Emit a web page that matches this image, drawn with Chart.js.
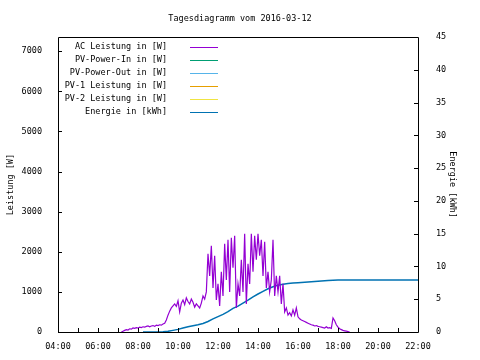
<!DOCTYPE html>
<html>
<head>
<meta charset="utf-8">
<script src="https://cdn.jsdelivr.net/npm/chart.js@4"></script>
<style>
  html, body { margin: 0; background: #fff; }
  #wrap { width: 480px; height: 360px; }
</style>
</head>
<body>
<div id="wrap"><canvas id="chart"></canvas></div>
<script>
// AC power, 5 minute readings
var acTimes = [
  "07:10","07:15","07:20","07:25","07:30","07:35","07:40","07:45","07:50","07:55",
  "08:00","08:05","08:10","08:15","08:20","08:25","08:30","08:35","08:40","08:45","08:50","08:55",
  "09:00","09:05","09:10","09:15","09:20","09:25","09:30","09:35","09:40","09:45","09:50","09:55",
  "10:00","10:05","10:10","10:15","10:20","10:25","10:30","10:35","10:40","10:45","10:50","10:55",
  "11:00","11:05","11:10","11:15","11:20","11:25","11:30","11:35","11:40","11:45","11:50","11:55",
  "12:00","12:05","12:10","12:15","12:20","12:25","12:30","12:35","12:40","12:45","12:50","12:55",
  "13:00","13:05","13:10","13:15","13:20","13:25","13:30","13:35","13:40","13:45","13:50","13:55",
  "14:00","14:05","14:10","14:15","14:20","14:25","14:30","14:35","14:40","14:45","14:50","14:55",
  "15:00","15:05","15:10","15:15","15:20","15:25","15:30","15:35","15:40","15:45","15:50","15:55",
  "16:00","16:05","16:10","16:15","16:20","16:25","16:30","16:35","16:40","16:45","16:50","16:55",
  "17:00","17:05","17:10","17:15","17:20","17:25","17:30","17:35","17:40","17:45","17:50","17:55",
  "18:00","18:05","18:10","18:15","18:20","18:25","18:30","18:35"
];
var acPower = [
  0, 20, 40, 60, 50, 80, 70, 100, 90, 110,
  100, 120, 110, 130, 120, 140, 150, 130, 150, 160, 140, 170,
  160, 180, 170, 200, 220, 300, 420, 520, 600, 650, 700, 640,
  780, 500, 720, 800, 680, 850, 760, 700, 820, 740, 620, 700,
  650, 600, 720, 900, 820, 1000, 1950, 1400, 2150, 1100, 1900, 800,
  1200, 650, 1500, 900, 2200, 1300, 2300, 1000, 2350, 1600, 2400, 600,
  1200, 900, 1800, 1000, 2450, 700, 1700, 1200, 2450, 1500, 2400, 1800,
  2450, 1900, 2300, 1400, 2250, 1100, 1500, 1000, 1300, 2300, 900, 1400,
  1000, 1400, 700, 1200, 500, 600, 420, 480, 400, 550, 420, 600,
  380, 330, 300, 280, 260, 240, 220, 200, 180, 170, 150, 160,
  140, 130, 120, 110, 100, 130, 100, 110, 90, 350, 280, 180,
  120, 80, 60, 40, 30, 20, 10, 0
];

// daily energy, cumulative
var energyTimes = [
  "08:15","08:30","08:45","09:00","09:15","09:30","09:45",
  "10:00","10:15","10:30","10:45","11:00","11:15","11:30","11:45",
  "12:00","12:15","12:30","12:45","13:00","13:15","13:30","13:45",
  "14:00","14:15","14:30","14:45","15:00","15:15","15:30","15:45",
  "16:00","16:30","17:00","17:30","18:00","18:30","22:00"
];
var energyKwh = [
  0, 0, 0, 0, 0.02, 0.1, 0.25,
  0.4, 0.6, 0.8, 0.95, 1.1, 1.3, 1.6, 2.0,
  2.35, 2.7, 3.1, 3.6, 3.95, 4.4, 4.85, 5.35,
  5.8, 6.2, 6.6, 6.9, 7.15, 7.3, 7.4, 7.47,
  7.52, 7.64, 7.76, 7.85, 7.92, 7.95, 7.95
];

var hourTicks = [4, 6, 8, 10, 12, 14, 16, 18, 20, 22];
var powerTicks = [0, 1000, 2000, 3000, 4000, 5000, 6000, 7000];
var energyTicks = [0, 5, 10, 15, 20, 25, 30, 35, 40, 45];

var seriesNames = [
  "AC Leistung in [W]", "PV-Power-In in [W]", "PV-Power-Out in [W]",
  "PV-1 Leistung in [W]", "PV-2 Leistung in [W]", "Energie in [kWh]"
];
var seriesColors = ["#9400d3", "#009e73", "#56b4e9", "#e69f00", "#f0e442", "#0072b2"];

var FONT = "'DejaVu Sans Mono', 'Liberation Mono', monospace";

function toHours(t) {
  var p = t.split(":");
  return Number(p[0]) + Number(p[1]) / 60;
}

function pairs(times, values) {
  return times.map(function (t, i) {
    return { x: toHours(t), y: values[i] };
  });
}

function pad2(n) {
  return (n < 10 ? "0" : "") + n;
}

function fixedTicks(list) {
  return function (scale) {
    scale.ticks = list.map(function (v) { return { value: v }; });
  };
}

// gnuplot style frame, inward ticks and the key
var gnuplotLook = {
  id: "gnuplotLook",
  afterDraw: function (chart) {
    var ctx = chart.ctx;
    var a = chart.chartArea;
    var sx = chart.scales.x, sy = chart.scales.y, sy2 = chart.scales.y2;
    ctx.save();
    ctx.strokeStyle = "#000";
    ctx.lineWidth = 1;
    ctx.beginPath();
    ctx.rect(Math.round(a.left) + 0.5, Math.round(a.top) + 0.5,
      Math.round(a.right - a.left), Math.round(a.bottom - a.top));
    var h, px;
    for (h = 4; h <= 22; h++) {
      px = Math.round(sx.getPixelForValue(h)) + 0.5;
      ctx.moveTo(px, a.bottom);
      ctx.lineTo(px, a.bottom - 4);
    }
    powerTicks.forEach(function (v) {
      px = Math.round(sy.getPixelForValue(v)) + 0.5;
      ctx.moveTo(a.left, px);
      ctx.lineTo(a.left + 4, px);
    });
    energyTicks.forEach(function (v) {
      px = Math.round(sy2.getPixelForValue(v)) + 0.5;
      ctx.moveTo(a.right, px);
      ctx.lineTo(a.right - 4, px);
    });
    ctx.stroke();

    ctx.font = "8.5px " + FONT;
    ctx.textAlign = "right";
    ctx.textBaseline = "middle";
    chart.data.datasets.forEach(function (ds, i) {
      var y = 47 + i * 13;
      ctx.fillStyle = "#000";
      ctx.fillText(ds.label, 167, y);
      ctx.strokeStyle = ds.borderColor;
      ctx.beginPath();
      ctx.moveTo(190, y + 0.5);
      ctx.lineTo(218, y + 0.5);
      ctx.stroke();
    });
    ctx.restore();
  }
};

function init() {
  var canvas = document.getElementById("chart");
  var datasets = seriesNames.map(function (name, i) {
    return {
      label: name,
      data: [],
      borderColor: seriesColors[i],
      backgroundColor: seriesColors[i],
      borderWidth: 1,
      pointRadius: 0,
      tension: 0,
      yAxisID: "y"
    };
  });
  datasets[0].data = pairs(acTimes, acPower);
  datasets[0].borderWidth = 1.2;
  datasets[5].data = pairs(energyTimes, energyKwh);
  datasets[5].yAxisID = "y2";
  datasets[5].borderWidth = 1.5;

  var tickFont = { family: FONT, size: 8.5 };

  new Chart(canvas, {
    type: "line",
    data: { datasets: datasets },
    plugins: [gnuplotLook],
    options: {
      responsive: true,
      maintainAspectRatio: false,
      animation: false,
      parsing: false,
      layout: { padding: 0 },
      plugins: {
        legend: { display: false },
        tooltip: { enabled: false },
        title: {
          display: true,
          text: "Tagesdiagramm vom 2016-03-12",
          color: "#000",
          font: { family: FONT, size: 8.5, weight: "normal", lineHeight: 1.2 },
          padding: { top: 14, bottom: 13 }
        }
      },
      scales: {
        x: {
          type: "linear",
          min: 4,
          max: 22,
          grid: { display: false },
          border: { display: false },
          afterBuildTicks: fixedTicks(hourTicks),
          ticks: {
            color: "#000",
            font: tickFont,
            padding: 2,
            maxRotation: 0,
            autoSkip: false,
            callback: function (v) { return pad2(v) + ":00"; }
          },
          afterFit: function (s) { s.height = 28; }
        },
        y: {
          position: "left",
          min: 0,
          max: 7350,
          grid: { display: false },
          border: { display: false },
          afterBuildTicks: fixedTicks(powerTicks),
          ticks: {
            color: "#000",
            font: tickFont,
            padding: 8,
            autoSkip: false,
            callback: function (v) { return String(v); }
          },
          title: {
            display: true,
            text: "Leistung [W]",
            color: "#000",
            font: tickFont,
            padding: { top: 6, bottom: 0 }
          },
          afterFit: function (s) { s.width = 58; }
        },
        y2: {
          position: "right",
          min: 0,
          max: 45,
          grid: { display: false },
          border: { display: false },
          afterBuildTicks: fixedTicks(energyTicks),
          ticks: {
            color: "#000",
            font: tickFont,
            padding: 10,
            autoSkip: false
          },
          title: {
            display: true,
            text: "Energie [kWh]",
            color: "#000",
            font: tickFont,
            padding: { top: 23, bottom: 0 }
          },
          afterFit: function (s) { s.width = 62; }
        }
      }
    }
  });
}

init();
</script>
</body>
</html>
